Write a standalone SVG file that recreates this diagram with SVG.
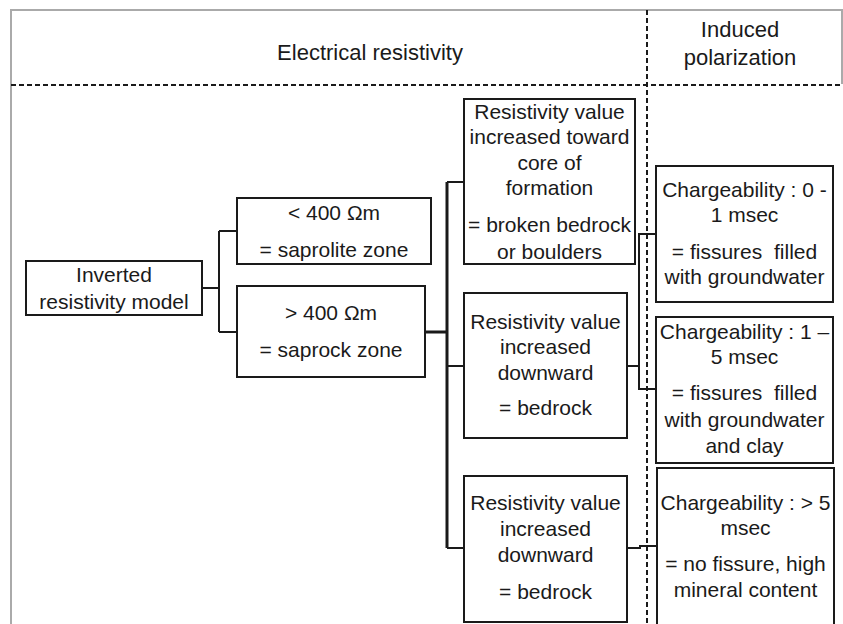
<svg xmlns="http://www.w3.org/2000/svg" width="843" height="624" viewBox="0 0 843 624">
<style>
.box{fill:#fff;stroke:#1a1a1a;stroke-width:2}
.t{font-family:"Liberation Sans",Arial,sans-serif;font-size:21px;fill:#1a1a1a;text-anchor:middle}
.h{font-family:"Liberation Sans",Arial,sans-serif;font-size:22px;fill:#1a1a1a;text-anchor:middle}
.c{fill:none;stroke:#1a1a1a;stroke-width:2}
.ck{fill:none;stroke:#1a1a1a;stroke-width:3}
.d{fill:none;stroke:#1a1a1a;stroke-width:2;stroke-dasharray:5 3}
</style>
<rect width="843" height="624" fill="#fff"/>
<g id="frame">
<path d="M11,624 V10 H842 V84" fill="none" stroke="#aaa" stroke-width="2"/>
<path class="d" d="M11,85 H843"/>
<path class="d" d="M647,10 V624"/>
<text class="h" x="370" y="60">Electrical resistivity</text>
<text class="h" x="740" y="37">Induced</text>
<text class="h" x="740" y="65">polarization</text>
</g>
<g id="connectors">
<path class="c" d="M202,288 H219 M219,231 V332 M219,231 H237 M219,332 H237"/>
<path class="ck" d="M425,332 H447 M447,182 V548"/>
<path class="c" d="M447,182 H464 M447,366 H464 M447,548 H464"/>
<path class="c" d="M656,234 H639 V389 H656 M627,366 H639"/>
<path class="c" d="M627,548 H640 V546 H657"/>
</g>
<g id="n-inverted">
<rect class="box" x="26" y="261" width="176" height="54"/>
<text class="t" x="114" y="282">Inverted</text>
<text class="t" x="114" y="309">resistivity model</text>
</g>
<g id="n-lt400">
<rect class="box" x="237" y="198" width="194" height="66"/>
<text class="t" x="334" y="220">&lt; 400 Ωm</text>
<text class="t" x="334" y="257">= saprolite zone</text>
</g>
<g id="n-gt400">
<rect class="box" x="237" y="286" width="188" height="91"/>
<text class="t" x="331" y="320">&gt; 400 Ωm</text>
<text class="t" x="331" y="357">= saprock zone</text>
</g>
<g id="n-core">
<rect class="box" x="464" y="99" width="171" height="165"/>
<text class="t" x="549.5" y="119">Resistivity value</text>
<text class="t" x="549.5" y="144">increased toward</text>
<text class="t" x="549.5" y="170">core of</text>
<text class="t" x="549.5" y="195">formation</text>
<text class="t" x="549.5" y="232">= broken bedrock</text>
<text class="t" x="549.5" y="259">or boulders</text>
</g>
<g id="n-down1">
<rect class="box" x="464" y="293" width="163" height="145"/>
<text class="t" x="545.5" y="329">Resistivity value</text>
<text class="t" x="545.5" y="354">increased</text>
<text class="t" x="545.5" y="380">downward</text>
<text class="t" x="545.5" y="415">= bedrock</text>
</g>
<g id="n-down2">
<rect class="box" x="464" y="476" width="163" height="146"/>
<text class="t" x="545.5" y="510">Resistivity value</text>
<text class="t" x="545.5" y="536">increased</text>
<text class="t" x="545.5" y="562">downward</text>
<text class="t" x="545.5" y="599">= bedrock</text>
</g>
<g id="n-charge1">
<rect class="box" x="656" y="166" width="177" height="136"/>
<text class="t" x="744.5" y="197">Chargeability : 0 -</text>
<text class="t" x="744.5" y="222">1 msec</text>
<text class="t" x="744.5" y="259" xml:space="preserve">= fissures  filled</text>
<text class="t" x="744.5" y="284">with groundwater</text>
</g>
<g id="n-charge2">
<rect class="box" x="656" y="317" width="177" height="146"/>
<text class="t" x="744.5" y="339">Chargeability : 1 –</text>
<text class="t" x="744.5" y="364">5 msec</text>
<text class="t" x="744.5" y="400" xml:space="preserve">= fissures  filled</text>
<text class="t" x="744.5" y="427">with groundwater</text>
<text class="t" x="744.5" y="453">and clay</text>
</g>
<g id="n-charge3">
<rect class="box" x="657" y="468" width="177" height="160"/>
<text class="t" x="745.5" y="510">Chargeability : &gt; 5</text>
<text class="t" x="745.5" y="535">msec</text>
<text class="t" x="745.5" y="571">= no fissure, high</text>
<text class="t" x="745.5" y="597">mineral content</text>
</g>
</svg>
